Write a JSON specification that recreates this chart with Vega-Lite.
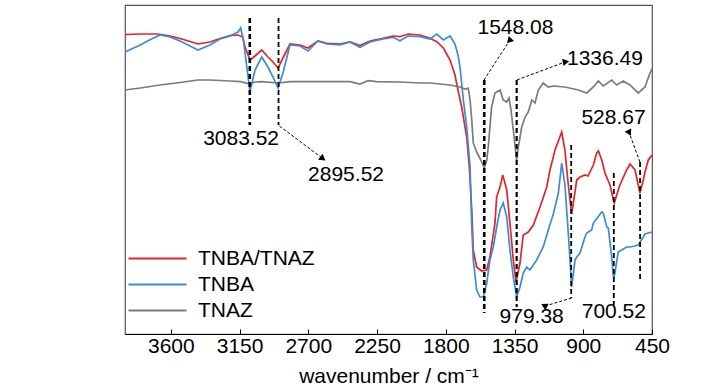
{
  "$schema": "https://vega.github.io/schema/vega-lite/v6.json",
  "width": 527,
  "height": 329,
  "autosize": {"type": "none"},
  "padding": {"left": 125, "top": 5, "right": 76, "bottom": 56},
  "background": "#ffffff",
  "config": {
    "view": {"stroke": "#555555", "strokeWidth": 1.2},
    "font": "Liberation Sans, Arial, sans-serif"
  },
  "datasets": {
    "spectra": [
      {"s":"TNBA/TNAZ","w":3900,"v":299.5},{"s":"TNBA/TNAZ","w":3800,"v":300},{"s":"TNBA/TNAZ","w":3684,"v":300},{"s":"TNBA/TNAZ","w":3605,"v":298},{"s":"TNBA/TNAZ","w":3540,"v":295.5},{"s":"TNBA/TNAZ","w":3474,"v":292.5},{"s":"TNBA/TNAZ","w":3422,"v":290},{"s":"TNBA/TNAZ","w":3344,"v":292},{"s":"TNBA/TNAZ","w":3278,"v":295.5},{"s":"TNBA/TNAZ","w":3213,"v":298.3},{"s":"TNBA/TNAZ","w":3160,"v":299},{"s":"TNBA/TNAZ","w":3130,"v":297},{"s":"TNBA/TNAZ","w":3114,"v":287},{"s":"TNBA/TNAZ","w":3082,"v":274},{"s":"TNBA/TNAZ","w":3049,"v":278},{"s":"TNBA/TNAZ","w":3005,"v":284},{"s":"TNBA/TNAZ","w":2964,"v":277},{"s":"TNBA/TNAZ","w":2931,"v":272},{"s":"TNBA/TNAZ","w":2898,"v":266},{"s":"TNBA/TNAZ","w":2866,"v":276},{"s":"TNBA/TNAZ","w":2820,"v":290},{"s":"TNBA/TNAZ","w":2754,"v":289},{"s":"TNBA/TNAZ","w":2702,"v":286},{"s":"TNBA/TNAZ","w":2637,"v":293},{"s":"TNBA/TNAZ","w":2578,"v":290.7},{"s":"TNBA/TNAZ","w":2492,"v":290},{"s":"TNBA/TNAZ","w":2427,"v":292},{"s":"TNBA/TNAZ","w":2362,"v":288.5},{"s":"TNBA/TNAZ","w":2296,"v":293},{"s":"TNBA/TNAZ","w":2211,"v":295.7},{"s":"TNBA/TNAZ","w":2146,"v":298},{"s":"TNBA/TNAZ","w":2100,"v":297.3},{"s":"TNBA/TNAZ","w":2047,"v":300},{"s":"TNBA/TNAZ","w":1969,"v":299},{"s":"TNBA/TNAZ","w":1903,"v":295.7},{"s":"TNBA/TNAZ","w":1859,"v":292.3},{"s":"TNBA/TNAZ","w":1816,"v":286},{"s":"TNBA/TNAZ","w":1772,"v":274},{"s":"TNBA/TNAZ","w":1740,"v":259},{"s":"TNBA/TNAZ","w":1720,"v":244},{"s":"TNBA/TNAZ","w":1696,"v":227},{"s":"TNBA/TNAZ","w":1663,"v":197},{"s":"TNBA/TNAZ","w":1646,"v":167},{"s":"TNBA/TNAZ","w":1630,"v":124},{"s":"TNBA/TNAZ","w":1620,"v":84},{"s":"TNBA/TNAZ","w":1598,"v":67},{"s":"TNBA/TNAZ","w":1565,"v":63},{"s":"TNBA/TNAZ","w":1532,"v":64},{"s":"TNBA/TNAZ","w":1511,"v":77},{"s":"TNBA/TNAZ","w":1478,"v":111},{"s":"TNBA/TNAZ","w":1467,"v":137},{"s":"TNBA/TNAZ","w":1445,"v":147},{"s":"TNBA/TNAZ","w":1427,"v":159},{"s":"TNBA/TNAZ","w":1401,"v":144},{"s":"TNBA/TNAZ","w":1380,"v":111},{"s":"TNBA/TNAZ","w":1358,"v":74},{"s":"TNBA/TNAZ","w":1340,"v":52},{"s":"TNBA/TNAZ","w":1314,"v":71},{"s":"TNBA/TNAZ","w":1293,"v":99},{"s":"TNBA/TNAZ","w":1260,"v":102},{"s":"TNBA/TNAZ","w":1227,"v":109},{"s":"TNBA/TNAZ","w":1183,"v":127},{"s":"TNBA/TNAZ","w":1139,"v":147},{"s":"TNBA/TNAZ","w":1118,"v":164},{"s":"TNBA/TNAZ","w":1085,"v":184},{"s":"TNBA/TNAZ","w":1041,"v":202},{"s":"TNBA/TNAZ","w":1020,"v":184},{"s":"TNBA/TNAZ","w":998,"v":149},{"s":"TNBA/TNAZ","w":976,"v":120},{"s":"TNBA/TNAZ","w":954,"v":142},{"s":"TNBA/TNAZ","w":943,"v":154},{"s":"TNBA/TNAZ","w":921,"v":157},{"s":"TNBA/TNAZ","w":889,"v":159},{"s":"TNBA/TNAZ","w":869,"v":158},{"s":"TNBA/TNAZ","w":834,"v":169},{"s":"TNBA/TNAZ","w":812,"v":181},{"s":"TNBA/TNAZ","w":801,"v":183},{"s":"TNBA/TNAZ","w":779,"v":174},{"s":"TNBA/TNAZ","w":758,"v":161},{"s":"TNBA/TNAZ","w":725,"v":149},{"s":"TNBA/TNAZ","w":703,"v":134},{"s":"TNBA/TNAZ","w":697,"v":131},{"s":"TNBA/TNAZ","w":671,"v":144},{"s":"TNBA/TNAZ","w":660,"v":149},{"s":"TNBA/TNAZ","w":616,"v":164},{"s":"TNBA/TNAZ","w":594,"v":170},{"s":"TNBA/TNAZ","w":561,"v":164},{"s":"TNBA/TNAZ","w":540,"v":149},{"s":"TNBA/TNAZ","w":529,"v":141},{"s":"TNBA/TNAZ","w":507,"v":154},{"s":"TNBA/TNAZ","w":496,"v":162},{"s":"TNBA/TNAZ","w":474,"v":174},{"s":"TNBA/TNAZ","w":450,"v":179},
      {"s":"TNBA","w":3900,"v":282},{"s":"TNBA","w":3800,"v":289},{"s":"TNBA","w":3740,"v":294},{"s":"TNBA","w":3671,"v":299},{"s":"TNBA","w":3605,"v":297},{"s":"TNBA","w":3540,"v":293},{"s":"TNBA","w":3474,"v":288},{"s":"TNBA","w":3422,"v":284},{"s":"TNBA","w":3344,"v":289},{"s":"TNBA","w":3278,"v":295},{"s":"TNBA","w":3213,"v":298},{"s":"TNBA","w":3160,"v":302},{"s":"TNBA","w":3143,"v":306},{"s":"TNBA","w":3125,"v":294},{"s":"TNBA","w":3114,"v":281},{"s":"TNBA","w":3082,"v":242.5},{"s":"TNBA","w":3049,"v":264},{"s":"TNBA","w":3005,"v":277},{"s":"TNBA","w":2964,"v":267},{"s":"TNBA","w":2931,"v":257},{"s":"TNBA","w":2898,"v":246},{"s":"TNBA","w":2866,"v":261},{"s":"TNBA","w":2820,"v":289},{"s":"TNBA","w":2754,"v":288},{"s":"TNBA","w":2702,"v":283},{"s":"TNBA","w":2637,"v":293},{"s":"TNBA","w":2578,"v":290},{"s":"TNBA","w":2492,"v":289},{"s":"TNBA","w":2427,"v":292},{"s":"TNBA","w":2362,"v":286.7},{"s":"TNBA","w":2296,"v":292},{"s":"TNBA","w":2211,"v":295},{"s":"TNBA","w":2146,"v":296.7},{"s":"TNBA","w":2100,"v":293.3},{"s":"TNBA","w":2047,"v":298},{"s":"TNBA","w":1969,"v":297.3},{"s":"TNBA","w":1903,"v":295},{"s":"TNBA","w":1859,"v":300},{"s":"TNBA","w":1816,"v":294},{"s":"TNBA","w":1772,"v":298},{"s":"TNBA","w":1740,"v":290},{"s":"TNBA","w":1720,"v":279},{"s":"TNBA","w":1707,"v":267},{"s":"TNBA","w":1685,"v":234},{"s":"TNBA","w":1663,"v":207},{"s":"TNBA","w":1641,"v":167},{"s":"TNBA","w":1630,"v":107},{"s":"TNBA","w":1620,"v":74},{"s":"TNBA","w":1598,"v":44},{"s":"TNBA","w":1576,"v":37},{"s":"TNBA","w":1554,"v":37},{"s":"TNBA","w":1532,"v":51},{"s":"TNBA","w":1511,"v":74},{"s":"TNBA","w":1489,"v":87},{"s":"TNBA","w":1467,"v":107},{"s":"TNBA","w":1445,"v":124},{"s":"TNBA","w":1424,"v":131},{"s":"TNBA","w":1401,"v":117},{"s":"TNBA","w":1380,"v":84},{"s":"TNBA","w":1358,"v":57},{"s":"TNBA","w":1336,"v":37},{"s":"TNBA","w":1314,"v":47},{"s":"TNBA","w":1293,"v":61},{"s":"TNBA","w":1270,"v":67},{"s":"TNBA","w":1249,"v":64},{"s":"TNBA","w":1205,"v":74},{"s":"TNBA","w":1162,"v":87},{"s":"TNBA","w":1129,"v":104},{"s":"TNBA","w":1096,"v":120},{"s":"TNBA","w":1063,"v":141},{"s":"TNBA","w":1041,"v":171},{"s":"TNBA","w":1020,"v":149},{"s":"TNBA","w":998,"v":101},{"s":"TNBA","w":976,"v":47},{"s":"TNBA","w":954,"v":74},{"s":"TNBA","w":943,"v":77},{"s":"TNBA","w":921,"v":81},{"s":"TNBA","w":889,"v":97},{"s":"TNBA","w":877,"v":101},{"s":"TNBA","w":845,"v":104},{"s":"TNBA","w":834,"v":111},{"s":"TNBA","w":779,"v":122},{"s":"TNBA","w":769,"v":121},{"s":"TNBA","w":746,"v":107},{"s":"TNBA","w":736,"v":106},{"s":"TNBA","w":714,"v":77},{"s":"TNBA","w":703,"v":57},{"s":"TNBA","w":697,"v":57},{"s":"TNBA","w":671,"v":82},{"s":"TNBA","w":616,"v":87},{"s":"TNBA","w":594,"v":87},{"s":"TNBA","w":561,"v":88},{"s":"TNBA","w":540,"v":89},{"s":"TNBA","w":507,"v":97},{"s":"TNBA","w":496,"v":100},{"s":"TNBA","w":452,"v":102},
      {"s":"TNAZ","w":3900,"v":244},{"s":"TNAZ","w":3800,"v":246},{"s":"TNAZ","w":3671,"v":249},{"s":"TNAZ","w":3540,"v":251.5},{"s":"TNAZ","w":3422,"v":254},{"s":"TNAZ","w":3344,"v":254},{"s":"TNAZ","w":3213,"v":253},{"s":"TNAZ","w":3143,"v":252.3},{"s":"TNAZ","w":3082,"v":250},{"s":"TNAZ","w":3049,"v":252},{"s":"TNAZ","w":3005,"v":252.3},{"s":"TNAZ","w":2898,"v":251},{"s":"TNAZ","w":2820,"v":252.3},{"s":"TNAZ","w":2702,"v":252.3},{"s":"TNAZ","w":2492,"v":252.3},{"s":"TNAZ","w":2427,"v":252.3},{"s":"TNAZ","w":2362,"v":250},{"s":"TNAZ","w":2330,"v":252},{"s":"TNAZ","w":2309,"v":253.3},{"s":"TNAZ","w":2252,"v":252.3},{"s":"TNAZ","w":2100,"v":252},{"s":"TNAZ","w":1969,"v":251},{"s":"TNAZ","w":1903,"v":251},{"s":"TNAZ","w":1772,"v":249},{"s":"TNAZ","w":1707,"v":247},{"s":"TNAZ","w":1674,"v":245},{"s":"TNAZ","w":1653,"v":245.7},{"s":"TNAZ","w":1641,"v":234},{"s":"TNAZ","w":1630,"v":214},{"s":"TNAZ","w":1620,"v":191},{"s":"TNAZ","w":1598,"v":182},{"s":"TNAZ","w":1581,"v":177},{"s":"TNAZ","w":1565,"v":172},{"s":"TNAZ","w":1548,"v":166},{"s":"TNAZ","w":1532,"v":174},{"s":"TNAZ","w":1522,"v":187},{"s":"TNAZ","w":1500,"v":227},{"s":"TNAZ","w":1478,"v":241},{"s":"TNAZ","w":1445,"v":244},{"s":"TNAZ","w":1424,"v":234},{"s":"TNAZ","w":1401,"v":232},{"s":"TNAZ","w":1386,"v":236},{"s":"TNAZ","w":1373,"v":224},{"s":"TNAZ","w":1358,"v":204},{"s":"TNAZ","w":1336,"v":174},{"s":"TNAZ","w":1325,"v":187},{"s":"TNAZ","w":1303,"v":207},{"s":"TNAZ","w":1281,"v":217},{"s":"TNAZ","w":1260,"v":222},{"s":"TNAZ","w":1237,"v":234},{"s":"TNAZ","w":1216,"v":231},{"s":"TNAZ","w":1194,"v":244},{"s":"TNAZ","w":1162,"v":251},{"s":"TNAZ","w":1129,"v":247},{"s":"TNAZ","w":1096,"v":248},{"s":"TNAZ","w":1020,"v":247},{"s":"TNAZ","w":932,"v":244},{"s":"TNAZ","w":877,"v":241},{"s":"TNAZ","w":834,"v":247},{"s":"TNAZ","w":801,"v":253},{"s":"TNAZ","w":769,"v":248},{"s":"TNAZ","w":714,"v":254},{"s":"TNAZ","w":681,"v":249},{"s":"TNAZ","w":638,"v":253},{"s":"TNAZ","w":594,"v":249},{"s":"TNAZ","w":540,"v":241},{"s":"TNAZ","w":496,"v":247},{"s":"TNAZ","w":463,"v":261},{"s":"TNAZ","w":450,"v":265}
    ],
    "vlines": [
      {"w":3083,"v1":316,"v2":209,"weight":"bold"},
      {"w":2895,"v1":316,"v2":209,"weight":"thin"},
      {"w":1548,"v1":254,"v2":21,"weight":"bold"},
      {"w":1336,"v1":254,"v2":27,"weight":"mid"},
      {"w":979,"v1":189,"v2":36,"weight":"thin"},
      {"w":700,"v1":161,"v2":29,"weight":"thin"},
      {"w":528,"v1":172,"v2":54,"weight":"thin"}
    ],
    "arrows": [
      {"label":"2895.52","w1":2889,"v1":208,"w2":2610,"v2":176},
      {"label":"1548.08","w1":1550,"v1":254,"w2":1380,"v2":294},
      {"label":"1336.49","w1":1334,"v1":254,"w2":1020,"v2":272},
      {"label":"979.38","w1":976,"v1":36,"w2":1150,"v2":28},
      {"label":"528.67","w1":529,"v1":172,"w2":601,"v2":202}
    ],
    "labels": [
      {"text":"3083.52","w":3140,"v":195},
      {"text":"2895.52","w":2453,"v":159},
      {"text":"1548.08","w":1344,"v":306.5},
      {"text":"1336.49","w":758,"v":275},
      {"text":"528.67","w":702,"v":216.5},
      {"text":"979.38","w":1238,"v":17},
      {"text":"700.52","w":700,"v":22}
    ]
  },
  "layer": [
    {
      "data": {"name": "spectra"},
      "mark": {"type": "line", "strokeWidth": 1.7},
      "encoding": {
        "x": {
          "field": "w", "type": "quantitative",
          "scale": {"domain": [450, 3900], "reverse": true, "nice": false, "zero": false},
          "axis": {
            "values": [3825,3600,3375,3150,2925,2700,2475,2250,2025,1800,1575,1350,1125,900,675,450],
            "labelExpr": "datum.value % 450 === 0 ? format(datum.value, 'd') : ''",
            "tickSize": {"condition": {"test": "datum.value % 450 === 0", "value": -5}, "value": -3},
            "tickColor": "#000000",
            "tickWidth": 1,
            "domainColor": "#000000",
            "domainWidth": 1.2,
            "grid": false,
            "labelFontSize": 21,
            "labelColor": "#000000",
            "labelPadding": 6,
            "labelOverlap": false,
            "labelFlush": false,
            "title": "wavenumber / cm⁻¹",
            "titleFontSize": 21,
            "titleFontWeight": "normal",
            "titleColor": "#000000",
            "titlePadding": 9
          }
        },
        "y": {
          "field": "v", "type": "quantitative",
          "scale": {"domain": [0, 329], "nice": false, "zero": false},
          "axis": null
        },
        "color": {
          "field": "s", "type": "nominal",
          "scale": {"domain": ["TNBA/TNAZ", "TNBA", "TNAZ"], "range": ["#e3242b", "#3d8bd6", "#7b7b7b"]},
          "legend": {
            "orient": "none",
            "legendX": 22,
            "legendY": 243,
            "padding": 0,
            "title": null,
            "symbolType": "M-5.8,0H5.8",
            "symbolSize": 100,
            "symbolStrokeWidth": 1.8,
            "symbolFillColor": "transparent",
            "labelFontSize": 21,
            "labelColor": "#000000",
            "labelOffset": 30,
            "rowPadding": 4
          }
        },
        "order": {"field": "w", "type": "quantitative"}
      }
    },
    {
      "data": {"name": "vlines"},
      "mark": {"type": "rule", "color": "#000000", "strokeDash": [5, 3]},
      "encoding": {
        "x": {"field": "w", "type": "quantitative"},
        "y": {"field": "v1", "type": "quantitative"},
        "y2": {"field": "v2"},
        "strokeWidth": {
          "field": "weight", "type": "nominal",
          "scale": {"domain": ["bold", "mid", "thin"], "range": [2.6, 1.8, 1.2]},
          "legend": null
        }
      }
    },
    {
      "data": {"name": "arrows"},
      "mark": {"type": "rule", "color": "#000000", "strokeDash": [3, 2], "strokeWidth": 1},
      "encoding": {
        "x": {"field": "w1", "type": "quantitative"},
        "y": {"field": "v1", "type": "quantitative"},
        "x2": {"field": "w2"},
        "y2": {"field": "v2"}
      }
    },
    {
      "data": {"name": "arrows"},
      "mark": {"type": "point", "shape": "triangle", "filled": true, "color": "#000000", "size": 55, "opacity": 1},
      "encoding": {
        "x": {"field": "w2", "type": "quantitative"},
        "y": {"field": "v2", "type": "quantitative"},
        "angle": {
          "field": "label", "type": "nominal",
          "scale": {"domain": ["2895.52", "1548.08", "1336.49", "979.38", "528.67"], "range": [127, 33, 69, 254, 339]},
          "legend": null
        }
      }
    },
    {
      "data": {"name": "labels"},
      "mark": {"type": "text", "fontSize": 21, "color": "#000000", "align": "center", "baseline": "middle"},
      "encoding": {
        "x": {"field": "w", "type": "quantitative"},
        "y": {"field": "v", "type": "quantitative"},
        "text": {"field": "text", "type": "nominal"}
      }
    }
  ]
}
